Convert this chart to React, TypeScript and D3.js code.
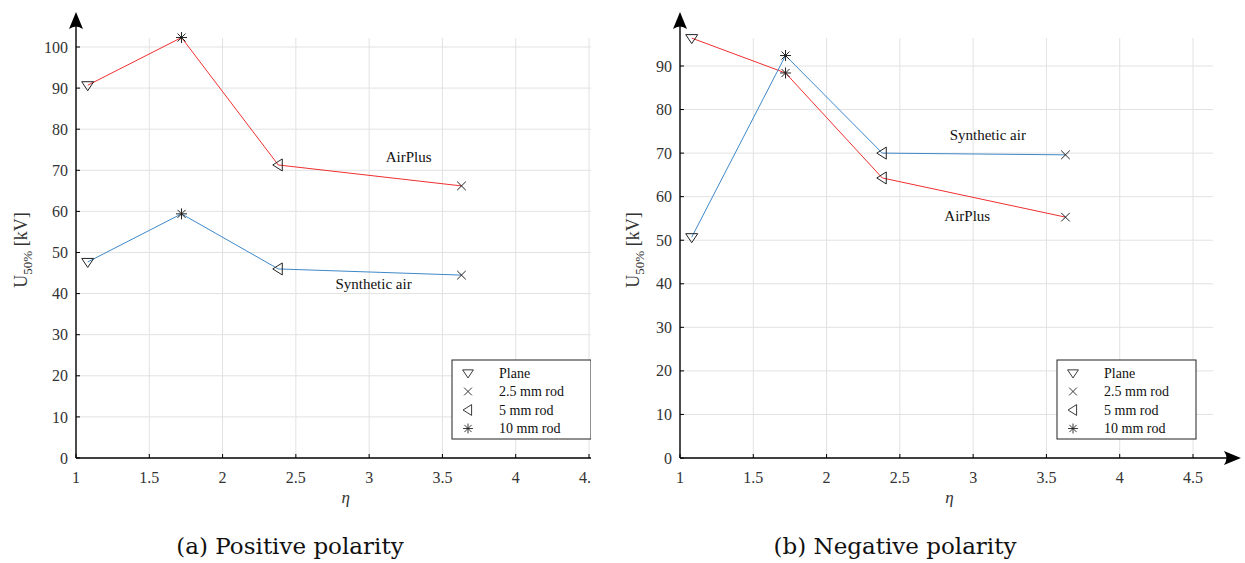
import React from "react";
import * as d3 from "d3";

// ---- data ----
const electrodes = ["Plane", "2.5 mm rod", "5 mm rod", "10 mm rod"];
const markerKinds = ["tridown", "times", "trileft", "asterisk"];
const eta = [1.08, 3.63, 2.38, 1.72];
const posAirPlus = [90.7, 66.2, 71.3, 102.3];
const posSynthetic = [47.7, 44.5, 46.0, 59.4];
const negAirPlus = [96.4, 55.3, 64.3, 88.4];
const negSynthetic = [50.7, 69.6, 70.0, 92.4];
const xTickValues = [1, 1.5, 2, 2.5, 3, 3.5, 4, 4.5];
const xTickLabels = ["1", "1.5", "2", "2.5", "3", "3.5", "4", "4.5"];
const yTicksPos = [0, 10, 20, 30, 40, 50, 60, 70, 80, 90, 100];
const yTicksNeg = [0, 10, 20, 30, 40, 50, 60, 70, 80, 90];
const seriesNames = ["AirPlus", "Synthetic air"];
const captions = ["(a) Positive polarity", "(b) Negative polarity"];

const RED = "#f03030";
const BLUE = "#3f88c8";
const FONT = "Liberation Serif";
const CAPTION_FONT = "DejaVu Serif";

function markerPath(kind: string): string {
  switch (kind) {
    case "tridown":
      return "M-6,-3.5L6,-3.5L0,5.5Z";
    case "trileft":
      return "M-5.5,0L4,-6L4,6Z";
    case "times":
      return "M-4.3,-4.3L4.3,4.3M-4.3,4.3L4.3,-4.3";
    case "asterisk":
    default:
      return "M-5.5,0L5.5,0M0,-5.5L0,5.5M-4,-4L4,4M-4,4L4,-4";
  }
}

type PanelProps = {
  x: d3.ScaleLinear<number, number>;
  y: d3.ScaleLinear<number, number>;
  yTicks: number[];
  xMax: number;
  top: number;
  red: number[];
  blue: number[];
  annotations: { name: string; ex: number; ev: number }[];
  legendX: number;
  caption: string;
  captionX: number;
  xArrow: boolean;
  labelOffset: number;
  clipId?: string;
};

function Panel(p: PanelProps) {
  const { x, y } = p;
  const x0 = x(1);
  const y0 = y(0);
  const xEnd = x(p.xMax);
  const line = d3
    .line<[number, number]>()
    .x((d) => x(d[0]))
    .y((d) => y(d[1]));
  const toPts = (vals: number[]) =>
    eta
      .map((e, i) => [e, vals[i]] as [number, number])
      .sort((a, b) => a[0] - b[0]);
  const series = [
    { vals: p.red, color: RED },
    { vals: p.blue, color: BLUE },
  ];
  const legendY = 360;
  const legendRowH = 18.5;
  const content = (
    <g>
      {xTickValues
        .filter((t) => t > 1)
        .map((t) => (
          <line key={"gx" + t} x1={x(t)} x2={x(t)} y1={p.top} y2={y0} stroke="#e2e2e2" strokeWidth={1} />
        ))}
      {p.yTicks
        .filter((t) => t > 0)
        .map((t) => (
          <line key={"gy" + t} x1={x0} x2={xEnd} y1={y(t)} y2={y(t)} stroke="#e2e2e2" strokeWidth={1} />
        ))}
      {series.map((s, i) => (
        <path key={"s" + i} d={line(toPts(s.vals)) || ""} fill="none" stroke={s.color} strokeWidth={1} />
      ))}
      {series.map((s, i) =>
        eta.map((e, j) => (
          <path
            key={"m" + i + "-" + j}
            d={markerPath(markerKinds[j])}
            transform={`translate(${x(e)},${y(s.vals[j])})`}
            fill="none"
            stroke="#222"
            strokeWidth={1}
          />
        ))
      )}
      {p.annotations.map((a) => (
        <text
          key={a.name}
          x={x(a.ex)}
          y={y(a.ev)}
          textAnchor="middle"
          dominantBaseline="middle"
          style={{ fontFamily: FONT, fontSize: 15 }}
          fill="#111"
        >
          {a.name}
        </text>
      ))}
      <line x1={x0} x2={x(p.xMax) + 22} y1={y0} y2={y0} stroke="#000" strokeWidth={1.4} />
      <line x1={x0} x2={x0} y1={y0} y2={26} stroke="#000" strokeWidth={1.4} />
      <path d={`M${x0},12L${x0 + 7},29Q${x0},24 ${x0 - 7},29Z`} fill="#000" />
      {p.xArrow && (
        <path
          d={`M${x(p.xMax) + 28},${y0}L${x(p.xMax) + 11},${y0 - 7}Q${x(p.xMax) + 16},${y0} ${x(p.xMax) + 11},${y0 + 7}Z`}
          fill="#000"
        />
      )}
      {xTickValues.map((t, i) => (
        <g key={"xt" + t}>
          <line x1={x(t)} x2={x(t)} y1={y0} y2={y0 - 4} stroke="#000" strokeWidth={1} />
          <text x={x(t)} y={y0 + 25} textAnchor="middle" style={{ fontFamily: FONT, fontSize: 16 }} fill="#333">
            {xTickLabels[i]}
          </text>
        </g>
      ))}
      {p.yTicks.map((t) => (
        <g key={"yt" + t}>
          <line x1={x0} x2={x0 + 4} y1={y(t)} y2={y(t)} stroke="#000" strokeWidth={1} />
          <text x={x0 - 8} y={y(t)} dy="0.35em" textAnchor="end" style={{ fontFamily: FONT, fontSize: 16 }} fill="#333">
            {t}
          </text>
        </g>
      ))}
      <rect x={p.legendX} y={legendY} width={139} height={79} fill="#fff" stroke="#222" strokeWidth={1} />
      {electrodes.map((name, j) => (
        <g key={"lg" + j} transform={`translate(${p.legendX},${legendY + 13 + j * legendRowH})`}>
          <path d={markerPath(markerKinds[j])} transform="translate(16,0) scale(0.9)" fill="none" stroke="#222" strokeWidth={1} />
          <text x={47} y={0} dy="0.35em" style={{ fontFamily: FONT, fontSize: 14 }} fill="#111">
            {name}
          </text>
        </g>
      ))}
    </g>
  );
  const labelX = x0 - p.labelOffset;
  const labelY = 250;
  return (
    <g>
      {p.clipId ? <g clipPath={`url(#${p.clipId})`}>{content}</g> : content}
      <text
        transform={`translate(${labelX},${labelY}) rotate(-90)`}
        textAnchor="middle"
        style={{ fontFamily: FONT, fontSize: 18 }}
        fill="#333"
      >
        U<tspan style={{ fontSize: 13 }} dy={5}>50%</tspan>
        <tspan dy={-5}> [kV]</tspan>
      </text>
      <text
        x={(x0 + xEnd) / 2 + 3}
        y={y0 + 45}
        textAnchor="middle"
        style={{ fontFamily: FONT, fontSize: 17, fontStyle: "italic" }}
        fill="#333"
      >
        η
      </text>
      <text x={p.captionX} y={554} textAnchor="middle" style={{ fontFamily: CAPTION_FONT, fontSize: 23 }} fill="#111">
        {p.caption}
      </text>
    </g>
  );
}

export default function App() {
  const xL = d3.scaleLinear().domain([1, 4.5]).range([76, 589]);
  const yL = d3.scaleLinear().domain([0, 100]).range([458, 47]);
  const xR = d3.scaleLinear().domain([1, 4.5]).range([680, 1193]);
  const yR = d3.scaleLinear().domain([0, 90]).range([458, 66]);
  return (
    <svg width={1245} height={563} style={{ position: "absolute", left: 0, top: 0, background: "#fff" }}>
      <defs>
        <clipPath id="clipLeft">
          <rect x={0} y={0} width={591} height={563} />
        </clipPath>
      </defs>
      <rect x={0} y={0} width={1245} height={563} fill="#fff" />
      <Panel
        x={xL}
        y={yL}
        yTicks={yTicksPos}
        xMax={4.64}
        top={38}
        red={posAirPlus}
        blue={posSynthetic}
        annotations={[
          { name: seriesNames[0], ex: 3.27, ev: 72.8 },
          { name: seriesNames[1], ex: 3.03, ev: 42.0 },
        ]}
        legendX={452}
        caption={captions[0]}
        captionX={290}
        xArrow={false}
        labelOffset={49}
        clipId="clipLeft"
      />
      <Panel
        x={xR}
        y={yR}
        yTicks={yTicksNeg}
        xMax={4.636}
        top={38}
        red={negAirPlus}
        blue={negSynthetic}
        annotations={[
          { name: seriesNames[1], ex: 3.1, ev: 73.8 },
          { name: seriesNames[0], ex: 2.96, ev: 55.2 },
        ]}
        legendX={1057}
        caption={captions[1]}
        captionX={895}
        xArrow={true}
        labelOffset={41}
      />
    </svg>
  );
}
